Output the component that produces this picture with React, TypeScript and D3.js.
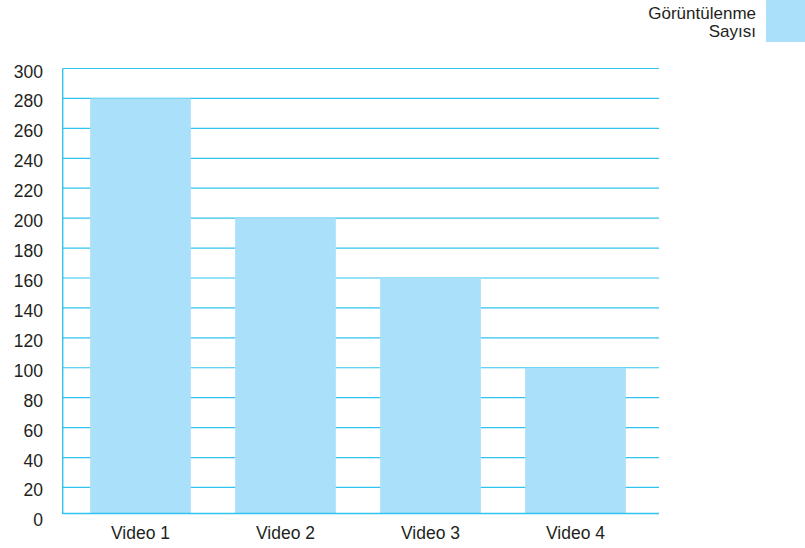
import React from "react";
import * as d3 from "d3";

const categories = ["Video 1", "Video 2", "Video 3", "Video 4"];
const values = [280, 200, 160, 100];
const yTicks = [0, 20, 40, 60, 80, 100, 120, 140, 160, 180, 200, 220, 240, 260, 280, 300];
const legendLines = ["Görüntülenme", "Sayısı"];

const W = 805;
const H = 548;
const plotLeft = 62.7;
const plotRight = 659;
const plotTop = 68.5;
const baseline = 513.5;
const gridColor = "#2fc3ef";
const barColor = "#aae0f9";
const textColor = "#231f20";
const font = "'Liberation Sans', Arial, Helvetica, sans-serif";

export default function App() {
  const y = d3.scaleLinear().domain([0, 300]).range([517.4, plotTop]);
  const x = d3
    .scaleBand<string>()
    .domain(categories)
    .range([68, 648])
    .paddingInner(0.3055)
    .paddingOuter(0.1527);

  return (
    <svg
      width={W}
      height={H}
      style={{ position: "absolute", left: 0, top: 0, background: "#fff" }}
      fontFamily={font}
    >
      {yTicks
        .filter((t) => t > 0)
        .map((t) => (
          <line
            key={"g" + t}
            x1={plotLeft}
            x2={plotRight}
            y1={y(t)}
            y2={y(t)}
            stroke={gridColor}
            strokeWidth={1.2}
          />
        ))}
      {values.map((v, i) => (
        <rect
          key={"b" + i}
          x={x(categories[i])}
          y={y(v)}
          width={x.bandwidth()}
          height={baseline - y(v)}
          fill={barColor}
        />
      ))}
      <line x1={plotLeft} x2={plotLeft} y1={plotTop} y2={baseline + 0.6} stroke={gridColor} strokeWidth={1.4} />
      <line x1={plotLeft} x2={plotRight} y1={baseline} y2={baseline} stroke={gridColor} strokeWidth={1.4} />
      {yTicks.map((t) => (
        <text
          key={"t" + t}
          x={43}
          y={y(t) + 9}
          textAnchor="end"
          fontSize={17.5}
          fill={textColor}
        >
          {t}
        </text>
      ))}
      {categories.map((c) => (
        <text
          key={"x" + c}
          x={(x(c) as number) + x.bandwidth() / 2}
          y={538.5}
          textAnchor="middle"
          fontSize={17.5}
          fill={textColor}
        >
          {c}
        </text>
      ))}
      <rect x={766} y={0} width={39} height={42} fill={barColor} />
      {legendLines.map((l, i) => (
        <text key={"l" + i} x={756} y={19 + i * 18} textAnchor="end" fontSize={17} fill={textColor}>
          {l}
        </text>
      ))}
    </svg>
  );
}
